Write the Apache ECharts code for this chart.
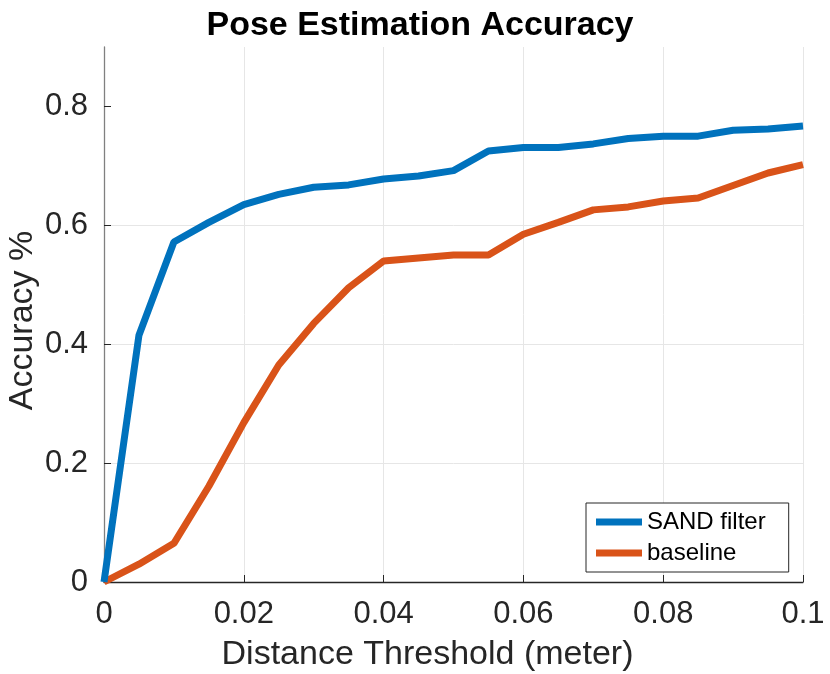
<!DOCTYPE html>
<html><head><meta charset="utf-8">
<script src="https://cdn.jsdelivr.net/npm/echarts@6/dist/echarts.min.js"></script>
<style>html,body{margin:0;padding:0;background:#fff}#c{width:830px;height:674px}</style>
</head><body><div id="c"></div>
<script>
const thresholds = [0,0.005,0.01,0.015,0.02,0.025,0.03,0.035,0.04,0.045,0.05,0.055,0.06,0.065,0.07,0.075,0.08,0.085,0.09,0.095,0.1];
const sandFilter = [0,0.415,0.572,0.605,0.635,0.652,0.664,0.668,0.678,0.683,0.692,0.725,0.731,0.731,0.737,0.746,0.750,0.750,0.760,0.762,0.767];
const baseline = [0,0.030,0.065,0.161,0.268,0.365,0.435,0.495,0.540,0.545,0.550,0.550,0.585,0.605,0.626,0.631,0.641,0.646,0.667,0.688,0.702];
const seriesNames = ['SAND filter','baseline'];
const xTickValues = [0,0.02,0.04,0.06,0.08,0.1];
const xTickLabels = ['0','0.02','0.04','0.06','0.08','0.1'];
const yTickValues = [0,0.2,0.4,0.6,0.8];
const yTickLabels = ['0','0.2','0.4','0.6','0.8'];

const font = 'Liberation Sans, Arial, Helvetica, sans-serif';
const chart = echarts.init(document.getElementById('c'));
const pair = (xs, ys) => xs.map((x,i)=>[x, ys[i]]);
const lookup = (vals, labs) => v => { const i = vals.findIndex(t => Math.abs(t - v) < 1e-9); return i >= 0 ? labs[i] : ''; };
chart.setOption({
  animation:false,
  title:{text:'Pose Estimation Accuracy', left:415, top:4, textAlign:'center',
    textStyle:{fontFamily:font, fontWeight:'bold', fontSize:34, color:'#000'}},
  grid:{left:104, right:27, top:47, bottom:92, outerBoundsMode:'none', containLabel:false},
  legend:{orient:'vertical', left:586, top:503, data:seriesNames,
    borderColor:'#262626', borderWidth:1, backgroundColor:'#fff',
    padding:[5,23,5,10], itemGap:3, itemWidth:46, itemHeight:7, icon:'rect',
    textStyle:{fontFamily:font, fontSize:24, color:'#000', lineHeight:28}},
  xAxis:{type:'value', min:0, max:0.1, interval:0.02,
    name:'Distance Threshold (meter)', nameLocation:'middle', nameGap:56,
    nameTextStyle:{fontFamily:font, fontSize:34, color:'#262626', padding:[0,52,0,0]},
    axisLine:{lineStyle:{color:'#262626', width:1.3}},
    axisTick:{inside:true, length:7, lineStyle:{color:'#262626'}},
    axisLabel:{margin:17, fontFamily:font, fontSize:31, color:'#262626',
      formatter:lookup(xTickValues, xTickLabels)},
    splitLine:{show:true, lineStyle:{color:'#e6e6e6', width:1}}},
  yAxis:{type:'value', min:0, max:0.9, interval:0.2,
    name:'Accuracy %', nameLocation:'middle', nameGap:64, nameMoveOverlap:false,
    nameTextStyle:{fontFamily:font, fontSize:34, color:'#262626', padding:[0,12,0,0]},
    axisLine:{show:true, lineStyle:{color:'#808080', width:1.3}},
    axisTick:{show:true, inside:true, length:7, lineStyle:{color:'#262626'}, customValues:yTickValues},
    axisLabel:{margin:16, fontFamily:font, fontSize:31, color:'#262626',
      customValues:yTickValues, formatter:lookup(yTickValues, yTickLabels)},
    splitLine:{show:true, showMaxLine:false, lineStyle:{color:'#e6e6e6', width:1}}},
  series:[
    {name:seriesNames[0], type:'line', data:pair(thresholds,sandFilter), showSymbol:false,
      lineStyle:{color:'#0072BD', width:7}, itemStyle:{color:'#0072BD'}, z:3},
    {name:seriesNames[1], type:'line', data:pair(thresholds,baseline), showSymbol:false,
      lineStyle:{color:'#D95319', width:7}, itemStyle:{color:'#D95319'}, z:2}
  ]
});
</script></body></html>
